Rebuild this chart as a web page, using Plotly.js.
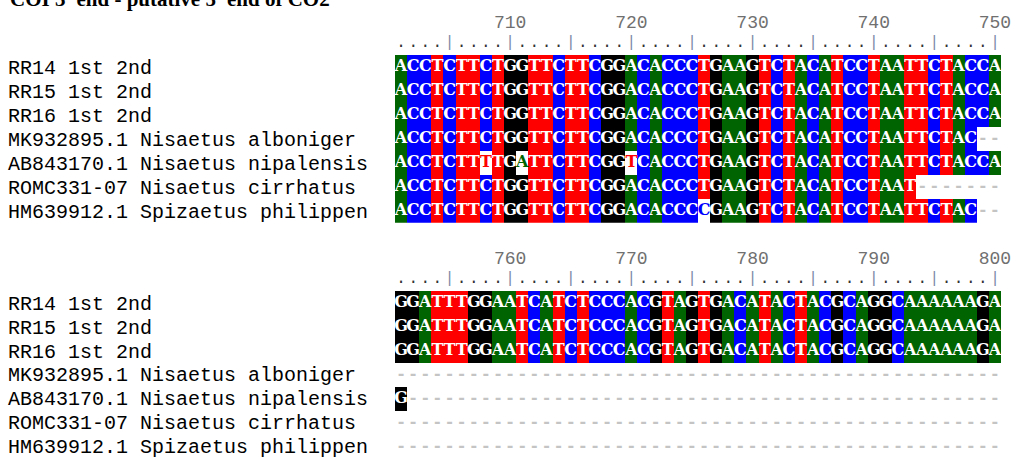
<!DOCTYPE html>
<html><head><meta charset="utf-8">
<script src="https://cdn.plot.ly/plotly-3.0.1.min.js"></script>
<style>html,body{margin:0;padding:0;background:#fff;overflow:hidden}#chart{width:1016px;height:460px;}</style>
</head><body><div id="chart"></div>
<script>
// ---------------- data ----------------
const titleText = "COI 3' end - putative 5' end of CO2";
const rowLabels = [
  "RR14 1st 2nd",
  "RR15 1st 2nd",
  "RR16 1st 2nd",
  "MK932895.1 Nisaetus alboniger",
  "AB843170.1 Nisaetus nipalensis",
  "ROMC331-07 Nisaetus cirrhatus",
  "HM639912.1 Spizaetus philippen"
];
const block1Start = 701;
const block1Seqs = [
  "ACCTCTTCTGGTTCTTCGGACACCCTGAAGTCTACATCCTAATTCTACCA",
  "ACCTCTTCTGGTTCTTCGGACACCCTGAAGTCTACATCCTAATTCTACCA",
  "ACCTCTTCTGGTTCTTCGGACACCCTGAAGTCTACATCCTAATTCTACCA",
  "ACCTCTTCTGGTTCTTCGGACACCCTGAAGTCTACATCCTAATTCTAC--",
  "ACCTCTTTTGATTCTTCGGTCACCCTGAAGTCTACATCCTAATTCTACCA",
  "ACCTCTTCTGGTTCTTCGGACACCCTGAAGTCTACATCCTAAT-------",
  "ACCTCTTCTGGTTCTTCGGACACCCCGAAGTCTACATCCTAATTCTAC--"
];
const block1Ticks = [710, 720, 730, 740, 750];
const block2Start = 751;
const block2Seqs = [
  "GGATTTGGAATCATCTCCCACGTAGTGACATACTACGCAGGCAAAAAAGA",
  "GGATTTGGAATCATCTCCCACGTAGTGACATACTACGCAGGCAAAAAAGA",
  "GGATTTGGAATCATCTCCCACGTAGTGACATACTACGCAGGCAAAAAAGA",
  "--------------------------------------------------",
  "G-------------------------------------------------",
  "--------------------------------------------------",
  "--------------------------------------------------"
];
const block2Ticks = [760, 770, 780, 790, 800];

// ---------------- styles / geometry ----------------
const W = 1016, H = 460;
const X0 = 395, CW = 12.12;          // first column left edge, column width (px)
const RH = 23.95;                    // row height (px)
const ROW0 = [55, 291];              // top of first sequence row for each block (px)
const LABEL_X = 8;                   // left of row labels (px)
const LABEL_DY = 2;                  // label baseline nudge (px)
const baseColor = {A: '#006400', C: '#0000ff', G: '#000000', T: '#ff0000'};
const baseCode = {A: 0, C: 1, G: 2, T: 3};
const colorscale = [[0, '#006400'], [0.2, '#0000ff'], [0.4, '#000000'], [0.6, '#ff0000'], [0.8, '#ffffff'], [1, '#ffffff']];
const LETTER_FONT = 'DejaVu Serif, Liberation Serif, serif';
const MONO = 'Liberation Mono, DejaVu Sans Mono, monospace';

function buildBlock(seqs, start, ticks, b) {
  const xa = b === 0 ? 'x' : 'x2', ya = b === 0 ? 'y' : 'y2';
  const xl = b === 0 ? 'x3' : 'x4', yl = b === 0 ? 'y3' : 'y4';
  const n = seqs[0].length;
  const xs = []; for (let i = 0; i < n; i++) xs.push(start + i);
  const ref = seqs[0];
  const z = [], lx = [], ly = [], lt = [], lc = [];
  seqs.forEach((s, r) => {
    const row = [];
    for (let i = 0; i < n; i++) {
      const ch = s[i];
      lx.push(start + i); ly.push(r);
      if (ch === '-') { row.push(5); lt.push('-'); lc.push('#c4c4c4'); }
      else if (ch !== ref[i] && ref[i] !== '-') { row.push(4); lt.push(ch); lc.push(baseColor[ch]); }
      else { row.push(baseCode[ch]); lt.push(ch); lc.push('#ffffff'); }
    }
    z.push(row);
  });
  const traces = [];
  traces.push({type: 'heatmap', x: xs, y: seqs.map((_, r) => r), z: z, colorscale: colorscale,
    zmin: 0, zmax: 5, showscale: false, hoverinfo: 'skip', xaxis: xa, yaxis: ya});
  traces.push({type: 'scatter', mode: 'text', x: lx, y: ly, text: lt, cliponaxis: false,
    textposition: 'middle center', hoverinfo: 'skip', xaxis: xa, yaxis: ya,
    textfont: {family: LETTER_FONT, size: 16, color: lc, weight: 'bold'}});
  // ruler
  const rt = xs.map(p => (p % 5 === 0 ? '|' : '.'));
  const rc = xs.map(p => (p % 5 === 0 ? '#7d8aa8' : '#333333'));
  traces.push({type: 'scatter', mode: 'text', x: xs, y: xs.map(() => -1), text: rt, cliponaxis: false,
    textposition: 'middle center', hoverinfo: 'skip', xaxis: xa, yaxis: ya,
    textfont: {family: MONO, size: 16, color: rc}});
  // position numbers
  traces.push({type: 'scatter', mode: 'text', x: ticks, y: ticks.map(() => -1.8), text: ticks.map(String),
    cliponaxis: false, textposition: 'middle center', hoverinfo: 'skip', xaxis: xa, yaxis: ya,
    textfont: {family: MONO, size: 18, color: '#707070'}});
  // row labels (on a pixel-scaled axis left of the alignment)
  traces.push({type: 'scatter', mode: 'text', x: rowLabels.map(() => LABEL_X), y: rowLabels.map((_, r) => r),
    text: rowLabels, cliponaxis: false, textposition: 'middle right', hoverinfo: 'skip', xaxis: xl, yaxis: yl,
    textfont: {family: MONO, size: 20, color: '#000000'}});
  return traces;
}

const data = [].concat(
  buildBlock(block1Seqs, block1Start, block1Ticks, 0),
  buildBlock(block2Seqs, block2Start, block2Ticks, 1)
);

function xAxis(start, anchor) {
  return {domain: [X0 / W, (X0 + 50 * CW) / W], range: [start - 0.5, start + 49.5], anchor: anchor,
    visible: false, fixedrange: true};
}
function labelAxis(anchor) {
  return {domain: [0, X0 / W], range: [0, X0], anchor: anchor, visible: false, fixedrange: true};
}
function yAxis(b, anchor, dy) {
  const top = ROW0[b] - 2 * RH + dy, bot = ROW0[b] + 7 * RH + dy;
  return {domain: [1 - bot / H, 1 - top / H], range: [6.5, -2.5], anchor: anchor, visible: false, fixedrange: true};
}

const layout = {
  width: W, height: H, margin: {l: 0, r: 0, t: 0, b: 0},
  paper_bgcolor: '#ffffff', plot_bgcolor: 'rgba(0,0,0,0)', showlegend: false,
  xaxis: xAxis(block1Start, 'y'), yaxis: yAxis(0, 'x', 0),
  xaxis2: xAxis(block2Start, 'y2'), yaxis2: yAxis(1, 'x2', 0),
  xaxis3: labelAxis('y3'), yaxis3: yAxis(0, 'x3', LABEL_DY),
  xaxis4: labelAxis('y4'), yaxis4: yAxis(1, 'x4', LABEL_DY),
  annotations: [{text: titleText, xref: 'paper', yref: 'paper', x: LABEL_X / W, y: 1 + 15 / H,
    xanchor: 'left', yanchor: 'top', showarrow: false,
    font: {family: 'Liberation Serif, Times New Roman, serif', size: 21, color: '#000', weight: 'bold'}}]
};

Plotly.newPlot('chart', data, layout, {staticPlot: true, displayModeBar: false});
</script>
</body></html>
